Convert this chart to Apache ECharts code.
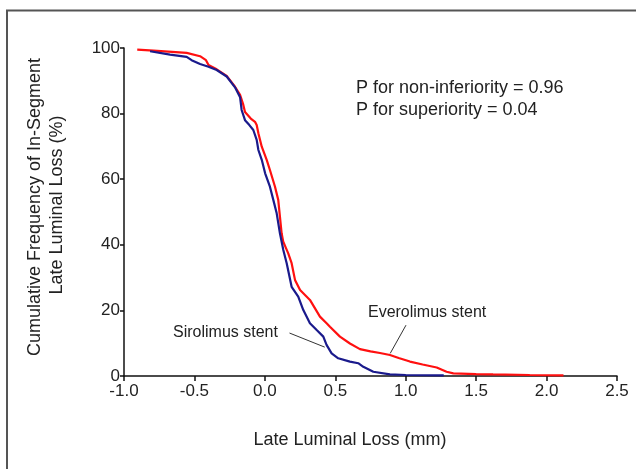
<!DOCTYPE html>
<html>
<head>
<meta charset="utf-8">
<script src="https://cdn.jsdelivr.net/npm/echarts@6/dist/echarts.min.js"></script>
<style>
html,body{margin:0;padding:0;background:#fff;}
#chart{width:636px;height:469px;}
</style>
</head>
<body>
<div id="chart"></div>
<script>
// Everolimus stent (red): late luminal loss (mm) vs cumulative frequency (%)
var everolimusX = [-0.906,-0.79,-0.555,-0.46,-0.418,-0.40,-0.342,-0.271,-0.212,-0.176,-0.155,-0.141,-0.10,-0.07,-0.058,-0.046,-0.022,0.013,0.036,0.072,0.095,0.107,0.119,0.13,0.15,0.166,0.19,0.214,0.25,0.32,0.391,0.44,0.462,0.533,0.604,0.675,0.75,0.817,0.888,0.95,1.03,1.12,1.22,1.29,1.338,1.5,1.62,1.88,2.12];
var everolimusY = [99.5,99.2,98.5,97.5,96.3,94.8,93.5,91.5,88.2,85.7,83,80.5,78.5,77.5,76.5,74,69.9,65.9,62.8,57.7,53.7,48.6,43.5,41,39,37.4,34.4,29.3,26.2,23.2,18.1,16,15,12,9.9,8.2,7.5,7.0,6.4,5.5,4.4,3.5,2.6,1.3,0.8,0.6,0.5,0.3,0.2];
// Sirolimus stent (blue)
var sirolimusX = [-0.815,-0.673,-0.555,-0.52,-0.46,-0.40,-0.342,-0.271,-0.212,-0.176,-0.165,-0.141,-0.11,-0.082,-0.058,-0.046,-0.022,0.002,0.036,0.06,0.084,0.107,0.131,0.155,0.19,0.237,0.273,0.32,0.368,0.415,0.438,0.474,0.521,0.604,0.663,0.699,0.77,0.888,1.0,1.27];
var sirolimusY = [99,98,97.3,96.3,95.1,94.3,93.3,91.3,88,85,81.1,78,76.5,75,72,68.9,65.9,61.8,57.7,53.7,49.6,43.5,38.4,34.4,27.2,24.2,20.1,16.1,14,12,9.5,6.9,5.4,4.4,3.9,2.8,1.3,0.5,0.3,0.2];
var xTicks = [-1.0,-0.5,0.0,0.5,1.0,1.5,2.0,2.5];
var yTicks = [0,20,40,60,80,100];
var xTitle = 'Late Luminal Loss (mm)';
var yTitleLines = ['Cumulative Frequency of In-Segment','Late Luminal Loss (%)'];
var annotations = [
  {text:'P for non-inferiority = 0.96', x:0.647, y:87.8, size:18},
  {text:'P for superiority = 0.04', x:0.647, y:81.1, size:18},
  {text:'Everolimus stent', x:0.732, y:19.2, size:16},
  {text:'Sirolimus stent', x:-0.652, y:13.1, size:16}
];
var leaders = [
  [[0.175,13.1],[0.425,8.8]],
  [[1.002,15.5],[0.89,6.9]]
];

function zip(a,b){var r=[];for(var i=0;i<a.length;i++)r.push([a[i],b[i]]);return r;}
var FONT = '"Liberation Sans", Arial, sans-serif';
var chart = echarts.init(document.getElementById('chart'));
var option = {
  backgroundColor:'#fff',
  animation:false,
  grid:{left:124, top:48, width:493, height:328, containLabel:false},
  xAxis:{
    type:'value', min:xTicks[0], max:xTicks[xTicks.length-1], interval:0.5,
    axisLine:{onZero:false, lineStyle:{color:'#111', width:1.5}},
    axisTick:{length:5, lineStyle:{color:'#111', width:1.5}},
    axisLabel:{fontFamily:FONT, fontSize:17, color:'#222', margin:7, formatter:function(v){return v.toFixed(1);}},
    splitLine:{show:false}
  },
  yAxis:{
    type:'value', min:yTicks[0], max:yTicks[yTicks.length-1], interval:20,
    axisLine:{show:true, onZero:false, lineStyle:{color:'#111', width:1.5}},
    axisTick:{show:true, length:4, lineStyle:{color:'#111', width:1.5}},
    axisLabel:{fontFamily:FONT, fontSize:17, color:'#222', margin:4},
    splitLine:{show:false}
  },
  series:[
    {type:'line', name:'Everolimus stent', data:zip(everolimusX,everolimusY), showSymbol:false, lineStyle:{color:'#ff1010', width:2.2}, z:2},
    {type:'line', name:'Sirolimus stent', data:zip(sirolimusX,sirolimusY), showSymbol:false, lineStyle:{color:'#1a1a8c', width:2.2}, z:3}
  ]
};
chart.setOption(option);

var g = [];
g.push({type:'rect', shape:{x:7, y:10.5, width:700, height:700}, style:{fill:'none', stroke:'#555', lineWidth:2}, silent:true, z:0});
annotations.forEach(function(a){
  var p = chart.convertToPixel({gridIndex:0},[a.x,a.y]);
  g.push({type:'text', x:p[0], y:p[1], style:{text:a.text, font:a.size+'px '+FONT, fill:'#222', verticalAlign:'middle'}, z:10});
});
leaders.forEach(function(l){
  var p1 = chart.convertToPixel({gridIndex:0},l[0]);
  var p2 = chart.convertToPixel({gridIndex:0},l[1]);
  g.push({type:'line', shape:{x1:p1[0],y1:p1[1],x2:p2[0],y2:p2[1]}, style:{stroke:'#333', lineWidth:1}, z:10});
});
// axis titles
g.push({type:'text', x:350, y:440, style:{text:xTitle, font:'18px '+FONT, fill:'#222', align:'center', verticalAlign:'middle'}, z:10});
g.push({type:'text', x:35, y:207, rotation:Math.PI/2, style:{text:yTitleLines[0], font:'18px '+FONT, fill:'#222', align:'center', verticalAlign:'middle'}, z:10});
g.push({type:'text', x:57, y:205, rotation:Math.PI/2, style:{text:yTitleLines[1], font:'18px '+FONT, fill:'#222', align:'center', verticalAlign:'middle'}, z:10});
g.push({type:'rect', shape:{x:628, y:380, width:10, height:25}, style:{fill:'#fff'}, z:20});
chart.setOption({graphic:g});
</script>
</body>
</html>
